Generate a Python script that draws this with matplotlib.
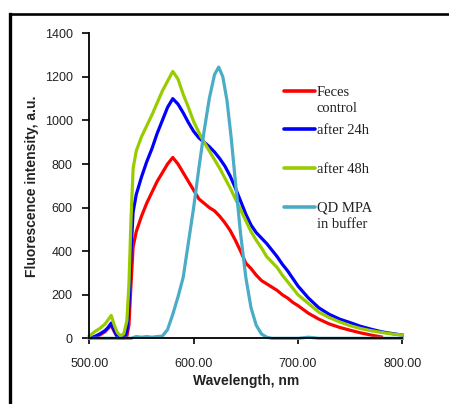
import matplotlib
matplotlib.use('Agg')
import matplotlib.pyplot as plt
from matplotlib.lines import Line2D
import numpy as np

# ---------------- data ----------------
wavelength = [500, 505, 510, 515, 518, 521, 524, 527, 530, 533, 536, 538, 540, 542, 545,
              550, 555, 560, 565, 570, 575, 580, 585, 590, 595, 600, 605, 610, 615, 620,
              625, 630, 635, 640, 645, 650, 655, 660, 665, 670, 675, 680, 685, 690, 695,
              700, 710, 720, 730, 740, 750, 760, 770, 780, 790, 800]

feces_control = [0, 5, 15, 30, 45, 60, 30, 5, 0, 0, 10, 60, 250, 420, 490,
                 560, 620, 670, 720, 760, 800, 830, 800, 760, 720, 680, 640, 620, 600, 585,
                 560, 530, 495, 450, 400, 345, 320, 290, 265, 250, 235, 220, 200, 185, 165,
                 150, 115, 88, 66, 50, 37, 25, 15, 6, np.nan, np.nan]

after_24h = [0, 8, 20, 35, 50, 70, 35, 5, 0, 2, 30, 150, 400, 580, 660,
             740, 810, 870, 940, 1000, 1060, 1100, 1075, 1035, 990, 950, 920, 900, 880, 855,
             825, 790, 745, 690, 630, 570, 520, 485, 460, 435, 405, 375, 340, 310, 275,
             240, 185, 140, 110, 88, 72, 55, 42, 30, 22, 15]

after_48h = [10, 30, 45, 65, 85, 105, 60, 25, 12, 20, 80, 250, 550, 780, 860,
             925, 975, 1025, 1080, 1135, 1180, 1225, 1190, 1120, 1060, 995, 945, 900, 860, 820,
             780, 735, 690, 640, 590, 540, 490, 450, 415, 375, 350, 325, 290, 260, 230,
             200, 160, 120, 95, 75, 58, 45, 35, 27, 20, 15]

qd_wavelength = [500, 540, 545, 550, 555, 560, 565, 570, 575, 580, 585, 590, 595, 600, 605,
                 610, 615, 620, 624, 628, 632, 636, 640, 645, 650, 655, 660, 665, 670, 675,
                 700, 710, 720, 800]
qd_mpa_buffer = [0, 0, 8, 5, 8, 5, 8, 10, 40, 110, 190, 280, 440, 600, 780,
                 950, 1100, 1210, 1245, 1200, 1090, 920, 720, 480, 280, 140, 60, 20, 5, 0,
                 0, 5, 0, 0]

legend_labels = ["Feces\ncontrol", "after 24h", "after 48h", "QD MPA\nin buffer"]
colors = ['#ff0000', '#0000ff', '#99cc00', '#4bacc6']

x_ticks = [500, 600, 700, 800]
x_ticklabels = ['500.00', '600.00', '700.00', '800.00']
y_ticks = [0, 200, 400, 600, 800, 1000, 1200, 1400]

# ---------------- figure ----------------
fig = plt.figure(figsize=(4.49, 4.04), dpi=100)
fig.patch.set_facecolor('white')
ax = fig.add_axes([0.1989, 0.1626, 0.6971, 0.755])

series = [(wavelength, feces_control), (wavelength, after_24h),
          (wavelength, after_48h), (qd_wavelength, qd_mpa_buffer)]
for (xs, ys), c in zip(series, colors):
    ax.plot(xs, ys, color=c, lw=2.3, clip_on=False, solid_joinstyle='round')

ax.set_xlim(500, 800)
ax.set_ylim(0, 1400)
ax.set_xticks(x_ticks)
ax.set_xticklabels(x_ticklabels)
ax.set_yticks(y_ticks)

for s in ['top', 'right']:
    ax.spines[s].set_visible(False)
for s in ['left', 'bottom']:
    ax.spines[s].set_linewidth(1.3)
    ax.spines[s].set_color('black')

ax.tick_params(axis='x', direction='out', length=4, width=1.2, pad=10, colors='black')
ax.tick_params(axis='y', direction='out', length=5, width=1.2, pad=7, colors='black')
for lab in ax.get_xticklabels() + ax.get_yticklabels():
    lab.set_fontfamily('Liberation Sans')
    lab.set_fontsize(9)
    lab.set_color('#222222')

ax.set_xlabel('Wavelength, nm', family='Liberation Sans', weight='bold', size=10,
              labelpad=3, color='#222222')
ax.set_ylabel('Fluorescence intensity, a.u.', family='Liberation Sans', weight='bold',
              size=10, labelpad=4, color='#222222')

# manual legend (Excel style)
handle_y = [0.811, 0.686, 0.558, 0.431]
for lab, c, y in zip(legend_labels, colors, handle_y):
    ax.plot([0.622, 0.721], [y, y], color=c, lw=2.6, transform=ax.transAxes,
            clip_on=False, solid_capstyle='round')
    for i, line in enumerate(lab.split('\n')):
        ax.text(0.726, y - 0.004 - i * 0.0525, line, transform=ax.transAxes,
                family='Liberation Serif', size=10.5, va='center', ha='left',
                color='#222222')

# outer frame (clipped at right and bottom)
fig.add_artist(Line2D([0.0223, 0.0223], [-0.05, 0.9658], transform=fig.transFigure,
                      color='black', lw=2.4))
fig.add_artist(Line2D([0.0223, 1.05], [0.9658, 0.9658], transform=fig.transFigure,
                      color='black', lw=1.9))

fig.savefig('out.png', dpi=100, facecolor='white')
